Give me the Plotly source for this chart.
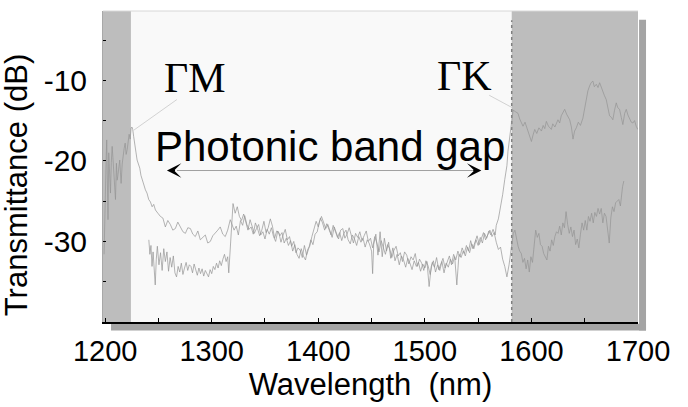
import plotly.graph_objects as go

# ---------------- data ----------------
x_tickvals = [1200, 1250, 1300, 1350, 1400, 1450, 1500, 1550, 1600, 1650, 1700]
x_ticktext = ["1200", "", "1300", "", "1400", "", "1500", "", "1600", "", "1700"]
y_tickvals = [-35, -30, -25, -20, -15, -10, -5]
y_ticktext = ["", "-30", "", "-20", "", "-10", ""]

# Gamma-M transmission spectrum
gm_wl = [1199.0, 1199.6, 1200.3, 1201.0, 1201.5, 1202.2, 1202.7, 1203.4, 1204.0, 1205.0,
         1205.8, 1206.6, 1207.3, 1208.1, 1209.0, 1209.7, 1210.6, 1211.3, 1211.9, 1212.8,
         1213.7, 1214.4, 1215.0, 1216.0, 1216.9, 1217.8, 1218.8, 1219.7, 1220.7, 1221.6,
         1222.5, 1223.5, 1224.4, 1225.2, 1225.9, 1226.8, 1227.8, 1229.0, 1230.0, 1231.2,
         1232.5, 1233.6, 1234.7, 1236.2, 1237.8, 1239.3, 1240.9, 1242.5, 1244.1, 1245.6,
         1247.2, 1249.5, 1251.9, 1254.2, 1256.5, 1258.8, 1261.2, 1263.5, 1265.9, 1268.2,
         1270.6, 1273.0, 1275.3, 1277.6, 1280.0, 1282.3, 1284.6, 1287.0, 1289.3, 1291.6,
         1294.0, 1296.3, 1298.7, 1301.0, 1303.4, 1305.7, 1308.0, 1310.4, 1312.7, 1315.0,
         1317.4, 1319.5,
         1321, 1323, 1325, 1327, 1329, 1331, 1333, 1335, 1337, 1339,
         1341, 1343, 1345, 1347, 1349, 1351, 1353, 1355, 1357, 1359,
         1361, 1363, 1365, 1367, 1369, 1371, 1373, 1375, 1377, 1379,
         1381, 1383, 1385, 1387, 1389, 1391, 1393, 1395, 1397, 1399,
         1401, 1403, 1405, 1407, 1409, 1411, 1413, 1415, 1417, 1419,
         1421, 1423, 1425, 1427, 1429, 1431, 1433, 1435, 1437, 1439,
         1441, 1443, 1445, 1447, 1449, 1451, 1453, 1455, 1457, 1459,
         1461, 1463, 1465, 1467, 1469, 1471, 1473, 1475, 1477, 1479,
         1481, 1483, 1485, 1487, 1489, 1491, 1493, 1495, 1497, 1499,
         1501, 1503, 1505, 1507, 1509, 1511, 1513, 1515, 1517, 1519,
         1521, 1523, 1525, 1527, 1529, 1531, 1533, 1535, 1537, 1539,
         1541, 1543, 1545, 1547, 1549, 1551, 1553, 1555, 1557, 1559,
         1561, 1563, 1565, 1567, 1569, 1571, 1573, 1575, 1577, 1579,
         1581,
         1583.0, 1584.5, 1586.0, 1587.5, 1589.0, 1590.5, 1592.0, 1593.5, 1595.0, 1596.5,
         1598.0, 1599.5, 1601.0, 1602.5, 1604.0, 1605.5, 1607.0, 1608.5, 1610.0, 1611.5,
         1613.0, 1614.5, 1616.0, 1617.5, 1619.0, 1620.5, 1622.0, 1623.5, 1625.0, 1626.5,
         1628.0, 1629.5, 1631.0, 1632.5, 1634.0, 1635.5, 1637.0, 1638.5, 1640.0, 1641.5,
         1643.0, 1644.5, 1646.0, 1647.5, 1649.0, 1650.5, 1652.0, 1653.5, 1655.0, 1656.5,
         1658.0, 1659.5, 1661.0, 1662.5, 1664.0, 1665.5, 1667.0, 1668.5, 1670.0, 1671.5,
         1673.0, 1674.5, 1676.0, 1677.5, 1679.0, 1680.5, 1682.0, 1683.5, 1684.5, 1685.5,
         1686.7]
gm_db = [-31.6, -26.0, -21.9, -19.5, -17.4, -23.5, -27.3, -19.0, -21.0, -24.0,
         -20.2, -18.2, -19.6, -21.1, -23.0, -24.8, -20.3, -22.4, -21.9, -20.6,
         -19.9, -21.5, -22.8, -20.4, -19.0, -18.5, -17.8, -19.2, -18.6, -17.6,
         -16.7, -17.3, -15.9, -15.8, -16.1, -17.0, -18.2, -19.0, -19.9, -20.3,
         -20.9, -21.8, -22.3, -22.9, -23.6, -24.0, -24.8, -25.1, -25.7, -25.4,
         -26.1, -26.5, -26.9, -27.1, -28.2, -27.4, -27.9, -28.6, -28.4, -27.6,
         -28.2, -28.8, -29.0, -28.3, -28.4, -29.1, -29.4, -28.7, -29.8, -29.5,
         -29.2, -30.2, -30.0, -29.3, -29.0, -28.6, -28.2, -29.1, -29.4, -28.6,
         -27.3, -28.0,
         -28.6, -28.1, -29.2, -27.4, -28.0, -26.8, -27.9, -28.5, -28.2, -29.1,
         -27.7, -28.4, -29.3, -28.6, -27.5, -28.9, -28.3, -27.2, -28.1, -29.6,
         -28.7, -28.9, -30.1, -29.2, -28.5, -29.8, -29.4, -30.6, -30.0, -31.4,
         -30.8, -31.1, -32.0, -30.5, -31.7, -30.9, -29.8, -30.4, -29.1, -28.8,
         -27.6, -26.9, -27.8, -28.4, -27.9, -28.7, -29.5, -28.2, -28.9, -29.7,
         -28.6, -28.4, -29.6, -29.1, -28.3, -29.4, -30.2, -29.0, -29.5, -28.8,
         -29.9, -29.3, -28.7, -30.0, -29.6, -30.8, -29.4, -30.2, -31.3, -29.9,
         -30.7, -31.6, -30.4, -30.9, -32.0, -31.1, -30.6, -31.8, -31.4, -32.5,
         -31.3, -31.7, -32.8, -31.9, -32.3, -31.5, -33.1, -32.2, -32.7, -33.6,
         -32.4, -33.0, -34.1, -32.6, -33.2, -32.0, -33.5, -32.9, -32.1, -33.3,
         -32.4, -31.8, -32.9, -31.6, -32.3, -31.2, -31.9, -30.8, -31.5, -30.5,
         -31.2, -29.9, -30.9, -30.1, -29.3, -30.4, -29.6, -28.9, -29.8, -29.2,
         -28.6, -29.4, -28.9, -30.1, -31.0, -30.7, -32.2, -33.1, -34.4, -32.9,
         -30.6,
         -29.0, -28.6, -29.8, -30.6, -31.2, -31.5, -32.6, -32.1, -33.4, -32.3,
         -33.8, -31.9, -32.6, -30.2, -28.6, -29.5, -29.0, -30.4, -30.6, -31.5,
         -31.9, -32.3, -30.6, -31.2, -29.8, -30.5, -29.4, -28.8, -29.0, -28.1,
         -29.2, -27.7, -28.3, -26.3, -27.9, -29.0, -28.2, -29.4, -28.6, -30.4,
         -29.7, -30.8, -29.1, -27.7, -28.6, -27.4, -28.6, -26.9, -27.5, -26.5,
         -27.7, -26.4, -26.9, -25.9, -26.6, -25.9, -27.7, -26.5, -26.9, -28.4,
         -30.2, -27.1, -25.7, -26.3, -25.2, -25.0, -24.8, -25.6, -24.0, -23.2,
         -22.5]

# Gamma-K transmission spectrum
gk_wl = [1241, 1242, 1243, 1244, 1245, 1246, 1247, 1248, 1249, 1250.5,
         1252, 1253.5, 1255, 1256.5, 1258, 1259.5, 1261, 1262.5, 1264, 1265.5,
         1267, 1268.5, 1270, 1271.5, 1273, 1274.5, 1276, 1277.5, 1279, 1280.5,
         1282, 1283.5, 1285, 1286.5, 1288, 1289.5, 1291, 1292.5, 1294, 1295.5,
         1297, 1298.5, 1300, 1301.5, 1303, 1304.5, 1306, 1307.5, 1309, 1310.5,
         1312, 1313.5, 1315, 1316, 1317, 1318, 1319, 1320,
         1322, 1324, 1326, 1328, 1330, 1332, 1334, 1336, 1338, 1340,
         1342, 1344, 1346, 1348, 1350, 1352, 1354, 1356, 1358, 1360,
         1362, 1364, 1366, 1368, 1370, 1372, 1374, 1376, 1378, 1380,
         1382, 1384, 1386, 1388, 1390, 1392, 1394, 1396, 1398, 1400,
         1402, 1404, 1406, 1408, 1410, 1412, 1414, 1416, 1418, 1420,
         1422, 1424, 1426, 1428, 1430, 1432, 1434, 1436, 1438, 1440,
         1442, 1444, 1446, 1448, 1450, 1451, 1452, 1454, 1456, 1458,
         1460, 1462, 1464, 1466, 1468, 1470, 1472, 1474, 1476, 1478,
         1480, 1482, 1484, 1486, 1488, 1490, 1492, 1494, 1496, 1498,
         1500, 1502, 1504, 1506, 1508, 1510, 1512, 1514, 1516, 1518,
         1520, 1522, 1524, 1526, 1528, 1530, 1532, 1534, 1536, 1538,
         1540, 1542, 1544, 1546, 1548, 1550, 1552, 1554, 1556, 1558,
         1560, 1562, 1564, 1566, 1567, 1569, 1571, 1573, 1575, 1577,
         1578, 1580, 1581.5, 1582.8,
         1585.0, 1587.4, 1589.0, 1592.1, 1594.0, 1596.8, 1598.0, 1600.0, 1601.5, 1603.1,
         1605.0, 1607.0, 1609.4, 1611.0, 1612.5, 1614.0, 1616.0, 1618.7, 1620.0, 1622.0,
         1624.9, 1626.5, 1628.0, 1631.2, 1633.0, 1635.9, 1637.5, 1639.0, 1640.5, 1642.1,
         1644.0, 1646.0, 1648.3, 1650.0, 1651.5, 1653.0, 1654.6, 1656.0, 1657.7, 1659.0,
         1660.9, 1662.5, 1664.0, 1665.5, 1667.0, 1668.5, 1670.2, 1671.8, 1673.3, 1675.0,
         1676.4, 1678.0, 1679.6, 1681.0, 1682.7, 1684.3, 1685.8, 1687.5, 1689.0, 1690.5,
         1692.1, 1693.7, 1695.2, 1696.8, 1698.3, 1699.8]
gk_db = [-29.8, -31.6, -30.5, -33.1, -31.3, -33.8, -35.4, -32.2, -30.6, -32.9,
         -31.4, -33.6, -30.9, -32.5, -31.3, -33.7, -32.0, -33.2, -31.8, -33.9,
         -34.4, -33.1, -33.8, -32.7, -34.1, -33.3, -32.6, -33.6, -32.9, -33.1,
         -33.9, -32.8, -33.6, -34.2, -33.3, -34.0, -33.4, -34.3, -33.6, -34.1,
         -34.4, -33.5, -34.0, -33.1, -33.5, -32.7, -33.3, -32.4, -33.0, -32.2,
         -31.6, -32.5, -31.9, -33.9, -31.5, -30.0, -27.4, -25.3,
         -26.5, -25.7, -26.9, -27.4, -26.6, -27.8, -28.6, -27.3, -28.1, -29.0,
         -28.4, -27.9, -29.2, -28.8, -29.7, -28.5, -29.1, -28.3, -29.4, -30.0,
         -28.7, -29.3, -28.9, -30.2, -29.6, -30.5, -29.9, -31.2, -30.4, -31.6,
         -32.1, -30.9, -31.8, -32.3, -31.0, -30.6, -29.4, -28.3, -27.5, -28.2,
         -27.1, -27.7, -28.6, -27.8, -28.4, -29.2, -28.0, -28.7, -29.5, -28.9,
         -29.9, -29.0, -28.6, -29.8, -30.3, -29.2, -29.7, -30.5, -29.4, -30.1,
         -29.6, -30.7, -29.8, -30.3, -31.2, -34.0, -30.4, -29.1, -31.7, -28.8,
         -31.9, -29.6, -31.2, -30.1, -32.1, -30.8, -32.4, -31.6, -32.9, -31.8,
         -32.3, -33.2, -32.1, -32.7, -33.5, -32.4, -33.1, -32.6, -33.7, -32.8,
         -33.3, -32.5, -35.6, -33.1, -32.4, -33.8, -32.9, -33.6, -32.5, -33.9,
         -32.7, -33.2, -32.2, -32.8, -31.9, -35.4, -31.6, -32.0, -31.2, -31.8,
         -30.7, -31.4, -30.3, -30.9, -29.8, -30.5, -29.5, -30.2, -29.0, -29.6,
         -28.7, -29.2, -28.5, -29.2, -28.0, -27.2, -25.8, -24.2, -22.3, -20.6,
         -18.8, -16.9, -15.1, -13.7,
         -13.9, -14.1, -14.8, -15.7, -15.2, -16.3, -16.9, -17.6, -16.8, -16.1,
         -16.6, -15.9, -16.3, -15.6, -16.0, -15.1, -15.7, -16.1, -15.4, -15.8,
         -14.9, -15.3, -14.4, -13.6, -14.2, -14.9, -15.8, -17.3, -16.3, -15.9,
         -15.2, -15.6, -14.7, -13.4, -12.4, -11.3, -10.7, -10.3, -10.1, -10.8,
         -10.5, -10.9, -10.3, -10.9, -11.5, -11.9, -12.4, -13.4, -14.4, -14.6,
         -14.9, -13.7, -12.8, -13.4, -13.6, -14.6, -15.5, -14.1, -13.6, -14.3,
         -14.7, -15.2, -15.3, -15.0, -15.7, -16.1]

# shaded (pass-band) regions and annotation anchors, in data units
left_band = [1198, 1224.2]
right_band = [1581.5, 1700]
gap_arrow = [1258, 1553, -21.2]

# ---------------- figure ----------------
SANS = "Liberation Sans, Arial, sans-serif"
SERIF = "Liberation Serif, Times New Roman, serif"
BAND = "#bdbdbd"
LINE = "#939393"

fig = go.Figure()
fig.add_trace(go.Scatter(x=gm_wl, y=gm_db, mode="lines",
                         line=dict(color=LINE, width=0.7), showlegend=False,
                         hoverinfo="skip"))
fig.add_trace(go.Scatter(x=gk_wl, y=gk_db, mode="lines",
                         line=dict(color=LINE, width=0.7), showlegend=False,
                         hoverinfo="skip"))

shapes = [
    dict(type="rect", xref="x", yref="y domain", x0=left_band[0], x1=left_band[1],
         y0=0, y1=1, fillcolor=BAND, line_width=0, layer="below"),
    dict(type="rect", xref="x", yref="y domain", x0=right_band[0], x1=right_band[1],
         y0=0, y1=1, fillcolor=BAND, line_width=0, layer="below"),
    dict(type="line", xref="x", yref="y domain", x0=right_band[0], x1=right_band[0],
         y0=0, y1=0.97, line=dict(color="#808080", width=1.5, dash="dot"), layer="below"),
    # drop shadow of the plot panel
    dict(type="rect", xref="x domain", yref="y domain", x0=1.002, x1=1.015,
         y0=-0.027, y1=0.972, fillcolor="#a4a4a4", line_width=0, layer="below"),
    dict(type="rect", xref="x domain", yref="y domain", x0=0.015, x1=1.015,
         y0=-0.027, y1=-0.006, fillcolor="#a4a4a4", line_width=0, layer="below"),
    # thin top frame line
    dict(type="line", xref="x domain", yref="y domain", x0=0, x1=1, y0=1, y1=1,
         line=dict(color="#d8d8d8", width=1)),
]

annotations = [
    dict(x=1284, y=-9.75, xref="x", yref="y", text="ΓM", showarrow=False,
         font=dict(family=SERIF, size=42, color="black")),
    dict(x=1537.5, y=-9.45, xref="x", yref="y", text="ΓK", showarrow=False,
         font=dict(family=SERIF, size=42, color="black")),
    dict(x=1226.8, y=-16.2, ax=1268.7, ay=-12.26, xref="x", yref="y", axref="x", ayref="y",
         text="", showarrow=True, arrowhead=0, arrowwidth=0.8, arrowcolor="#c8c8c8"),
    dict(x=1582, y=-13.4, ax=1559, ay=-11.76, xref="x", yref="y", axref="x", ayref="y",
         text="", showarrow=True, arrowhead=0, arrowwidth=0.8, arrowcolor="#c8c8c8"),
    dict(x=1410.6, y=-18.2, xref="x", yref="y", text="Photonic band gap", showarrow=False,
         font=dict(family=SANS, size=42, color="black")),
    dict(x=gap_arrow[1] - 8, y=gap_arrow[2], ax=gap_arrow[0] + 8, ay=gap_arrow[2],
         xref="x", yref="y", axref="x", ayref="y", text="", showarrow=True,
         arrowhead=0, arrowwidth=1, arrowcolor="#a0a0a0"),
    dict(x=gap_arrow[1], y=gap_arrow[2], ax=gap_arrow[1] - 9, ay=gap_arrow[2],
         xref="x", yref="y", axref="x", ayref="y", text="", showarrow=True,
         arrowhead=3, arrowsize=2.4, arrowwidth=1, arrowcolor="black"),
    dict(x=gap_arrow[0], y=gap_arrow[2], ax=gap_arrow[0] + 9, ay=gap_arrow[2],
         xref="x", yref="y", axref="x", ayref="y", text="", showarrow=True,
         arrowhead=3, arrowsize=2.4, arrowwidth=1, arrowcolor="black"),
    # y-axis title (sits lower than the panel centre in the reference)
    dict(x=-0.1626, y=0.44, xref="paper", yref="paper", text="Transmittance (dB)",
         textangle=-90, showarrow=False, xanchor="center", yanchor="middle",
         font=dict(family=SANS, size=31, color="black")),
]

fig.update_layout(
    width=688, height=407,
    margin=dict(l=103, r=50, t=11, b=85, pad=0),
    paper_bgcolor="white", plot_bgcolor="#f9f9f9",
    font=dict(family=SANS, color="black"),
    shapes=shapes, annotations=annotations,
    xaxis=dict(range=[1198, 1700], tickvals=x_tickvals, ticktext=x_ticktext,
               ticks="inside", ticklen=4, tickwidth=1, tickcolor="black",
               showline=True, linecolor="black", linewidth=2, showgrid=False,
               zeroline=False, tickfont=dict(size=29, color="black"),
               ticklabelstandoff=2, automargin=False,
               title=dict(text="Wavelength\u00a0 (nm)", font=dict(size=31, color="black"),
                          standoff=2)),
    yaxis=dict(range=[-40, -1.4], tickvals=y_tickvals, ticktext=y_ticktext,
               ticks="inside", ticklen=3, tickwidth=1, tickcolor="black",
               showline=True, linecolor="#a8a8a8", linewidth=1, showgrid=False,
               zeroline=False, tickfont=dict(size=30, color="black"),
               ticklabelstandoff=9, automargin=False),
)

# the page's default 8px body margin would shift the figure; remove it
fig.write_html("out.html", config={"displayModeBar": False},
               post_script="document.body.style.margin='0px';")
